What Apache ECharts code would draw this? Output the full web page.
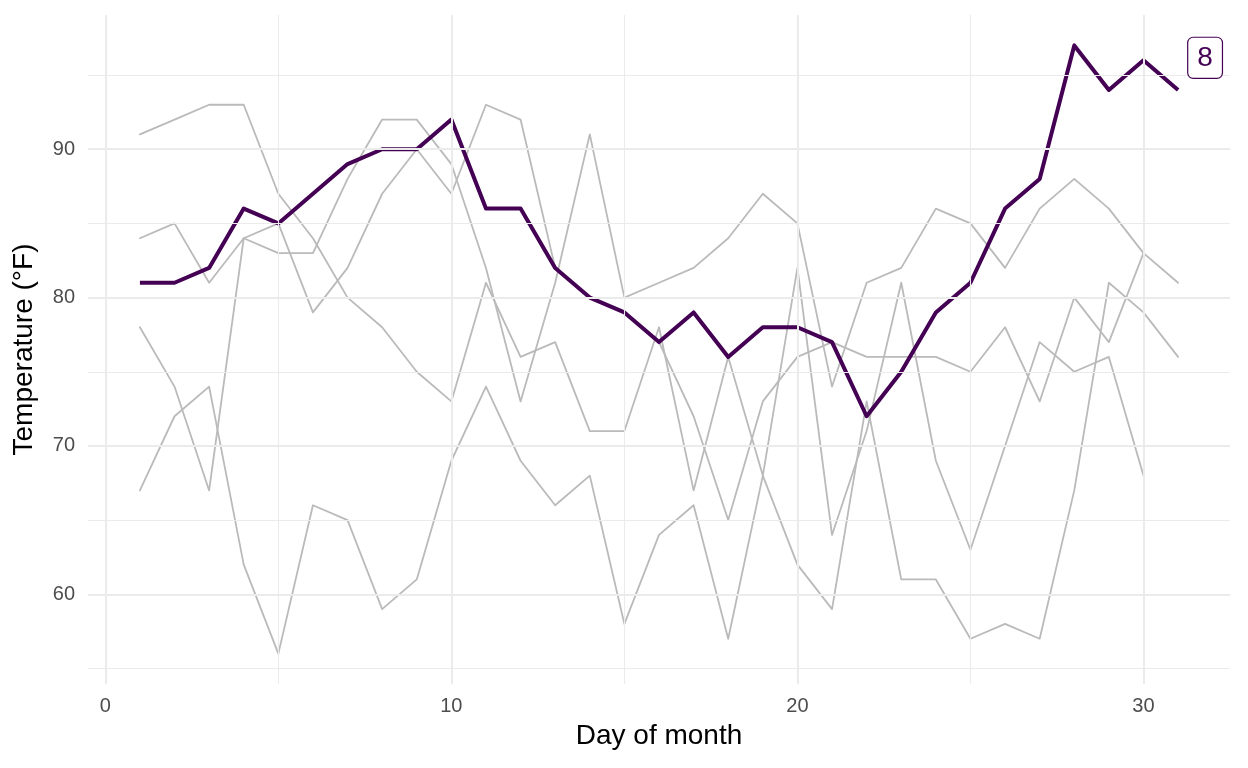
<!DOCTYPE html>
<html><head><meta charset="utf-8">
<script src="https://cdn.jsdelivr.net/npm/echarts@6/dist/echarts.min.js"></script>
<style>html,body{margin:0;padding:0;background:#fff}#c{width:1248px;height:768px}</style>
</head><body><div id="c"></div>
<script>
const days = Array.from({length: 31}, (_, i) => i + 1);
const may  = [67,72,74,62,56,66,65,59,61,69,74,69,66,68,58,64,66,57,68,62,59,73,61,61,57,58,57,67,81,79,76];
const jun  = [78,74,67,84,85,79,82,87,90,87,93,92,82,80,79,77,72,65,73,76,77,76,76,76,75,78,73,80,77,83];
const jul  = [84,85,81,84,83,83,88,92,92,89,82,73,81,91,80,81,82,84,87,85,74,81,82,86,85,82,86,88,86,83,81];
const aug  = [81,81,82,86,85,87,89,90,90,92,86,86,82,80,79,77,79,76,78,78,77,72,75,79,81,86,88,97,94,96,94];
const sep  = [91,92,93,93,87,84,80,78,75,73,81,76,77,71,71,78,67,76,68,82,64,71,81,69,63,70,77,75,76,68];
const xTicks = [0,10,20,30];
const xMinor = [5,15,25];
const yTicks = [60,70,80,90];
const yMinor = [55,65,75,85,95];
const labelText = '8';
const labelPos = [31.78, 96.16];

const pair = arr => arr.map((v,i)=>[days[i], v]);
const grey = '#bababa';
const gridC = '#ebebeb';
const FONT = 'Liberation Sans, Arial, sans-serif';
const others = [may, jun, jul, sep].map(a => ({
  type:'line', data: pair(a), symbol:'none', silent:true,
  lineStyle:{color:grey, width:1.8, join:'round', cap:'round'}, z:2
}));

const chart = echarts.init(document.getElementById('c'));
chart.setOption({
  animation:false,
  grid:{left:88, right:18, top:15, bottom:84, containLabel:false},
  xAxis:{type:'value', min:-0.5, max:32.5,
    axisLine:{show:false}, axisTick:{show:false}, splitLine:{show:false},
    axisLabel:{customValues:xTicks, color:'#4d4d4d', fontSize:20, margin:12, fontFamily:FONT},
    name:'Day of month', nameLocation:'middle', nameGap:38,
    nameTextStyle:{color:'#000', fontSize:28, fontFamily:FONT}},
  yAxis:{type:'value', min:53.95, max:99.05,
    axisLine:{show:false}, axisTick:{show:false}, splitLine:{show:false},
    axisLabel:{customValues:yTicks, color:'#4d4d4d', fontSize:20, margin:13, fontFamily:FONT},
    name:'Temperature (°F)', nameLocation:'middle', nameGap:50, nameRotate:90,
    nameTextStyle:{color:'#000', fontSize:28, fontFamily:FONT}},
  series:[
    {type:'line', data:[], silent:true, z:1,
      markLine:{silent:true, symbol:'none', label:{show:false}, animation:false,
        data:[
          ...xTicks.map(v=>({xAxis:v, lineStyle:{color:gridC, width:2, type:'solid'}})),
          ...xMinor.map(v=>({xAxis:v, lineStyle:{color:gridC, width:1.1, type:'solid'}})),
          ...yTicks.map(v=>({yAxis:v, lineStyle:{color:gridC, width:2, type:'solid'}})),
          ...yMinor.map(v=>({yAxis:v, lineStyle:{color:gridC, width:1.1, type:'solid'}}))
        ]}},
    ...others,
    {type:'line', data: pair(aug), symbol:'none', silent:true,
      lineStyle:{color:'#440154', width:4, join:'round', cap:'butt'}, z:3,
      markPoint:{silent:true, animation:false, symbol:'rect', symbolSize:0,
        data:[{coord:labelPos, value:labelText}],
        label:{show:true, position:'inside', formatter:labelText, color:'#440154',
          fontSize:28, lineHeight:28, fontFamily:FONT, opacity:1,
          backgroundColor:'#ffffff', borderColor:'#440154', borderWidth:1.2, borderRadius:5,
          padding:[6,9,6,9]}}}
  ]
});
</script></body></html>
